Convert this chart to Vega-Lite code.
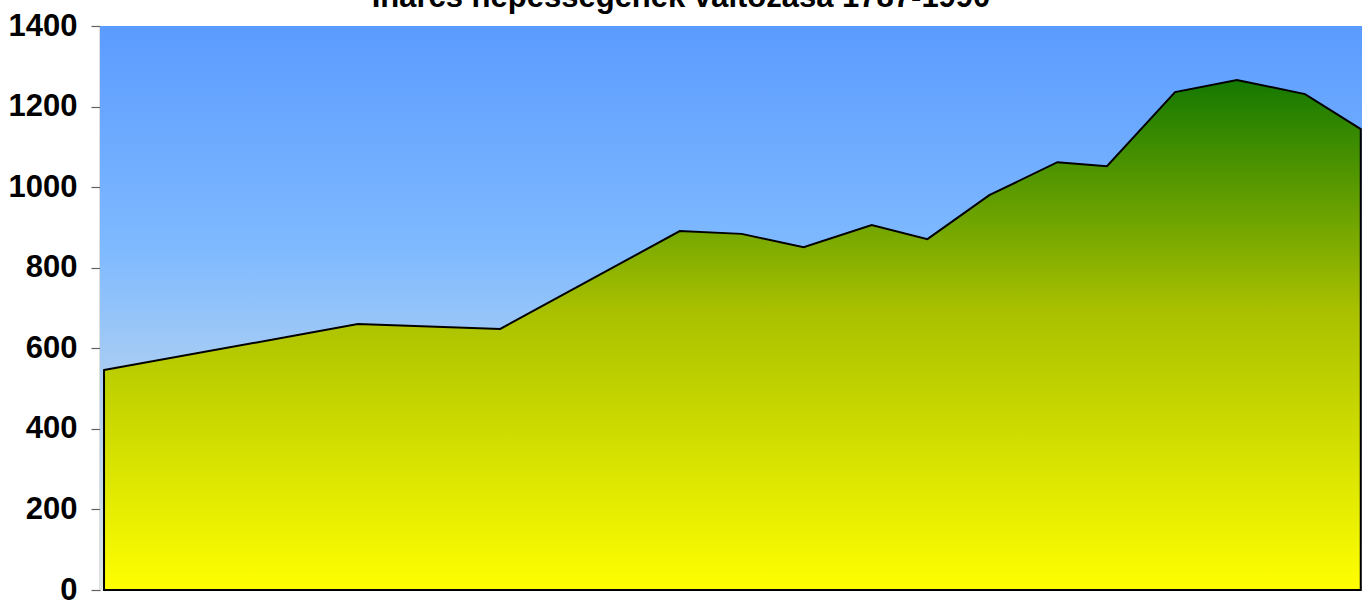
{
  "$schema": "https://vega.github.io/schema/vega-lite/v6.json",
  "autosize": {"type": "none"},
  "padding": {"left": 100, "top": 26, "right": 0, "bottom": 11},
  "width": 1262,
  "height": 564,
  "background": "white",
  "config": {
    "view": {"stroke": null},
    "font": "Liberation Sans"
  },
  "title": {
    "text": "Inárcs népességének változása 1787-1990",
    "font": "Liberation Sans",
    "fontSize": 31,
    "fontWeight": "bold",
    "color": "black",
    "anchor": "middle",
    "frame": "group",
    "baseline": "bottom",
    "offset": -35,
    "dx": -50
  },
  "data": {
    "values": [
      {"ev": 1777, "nepesseg": 546},
      {"ev": 1818, "nepesseg": 660},
      {"ev": 1841, "nepesseg": 648},
      {"ev": 1870, "nepesseg": 891},
      {"ev": 1880, "nepesseg": 884},
      {"ev": 1890, "nepesseg": 851},
      {"ev": 1901, "nepesseg": 906},
      {"ev": 1910, "nepesseg": 871},
      {"ev": 1920, "nepesseg": 980},
      {"ev": 1931, "nepesseg": 1062},
      {"ev": 1939, "nepesseg": 1052},
      {"ev": 1950, "nepesseg": 1236},
      {"ev": 1960, "nepesseg": 1266},
      {"ev": 1971, "nepesseg": 1231},
      {"ev": 1980, "nepesseg": 1144}
    ]
  },
  "layer": [
    {
      "mark": {
        "type": "rect",
        "color": {
          "gradient": "linear",
          "x1": 0, "y1": 0, "x2": 0, "y2": 1,
          "stops": [
            {"offset": 0, "color": "#5b9bff"},
            {"offset": 0.4, "color": "#7fbaff"},
            {"offset": 0.62, "color": "#a9cdf3"},
            {"offset": 1, "color": "#dfe8e4"}
          ]
        }
      },
      "encoding": {
        "y": {"datum": 1400, "type": "quantitative", "scale": {"domain": [0, 1400]}},
        "y2": {"datum": 0}
      }
    },
    {
      "mark": {
        "type": "area",
        "stroke": "black",
        "strokeWidth": 2,
        "strokeJoin": "miter",
        "color": {
          "gradient": "linear",
          "x1": 0, "y1": 0, "x2": 0, "y2": 1,
          "stops": [
            {"offset": 0, "color": "#157800"},
            {"offset": 0.45, "color": "#a8c000"},
            {"offset": 1, "color": "#ffff00"}
          ]
        }
      },
      "encoding": {
        "x": {
          "field": "ev",
          "type": "quantitative",
          "scale": {"domain": [1776.35, 1980.2], "nice": false, "zero": false},
          "axis": null
        },
        "y": {
          "field": "nepesseg",
          "type": "quantitative",
          "scale": {"domain": [0, 1400], "nice": false},
          "axis": {
            "values": [0, 200, 400, 600, 800, 1000, 1200, 1400],
            "format": "d",
            "grid": false,
            "title": null,
            "domainColor": "#808080",
            "domainWidth": 1.5,
            "tickColor": "#606060",
            "tickSize": 9,
            "tickWidth": 1.2,
            "labelFont": "Liberation Sans",
            "labelFontSize": 31,
            "labelFontWeight": "bold",
            "labelColor": "black",
            "labelPadding": 14,
            "labelFlush": false,
            "labelOverlap": false
          }
        }
      }
    }
  ]
}
